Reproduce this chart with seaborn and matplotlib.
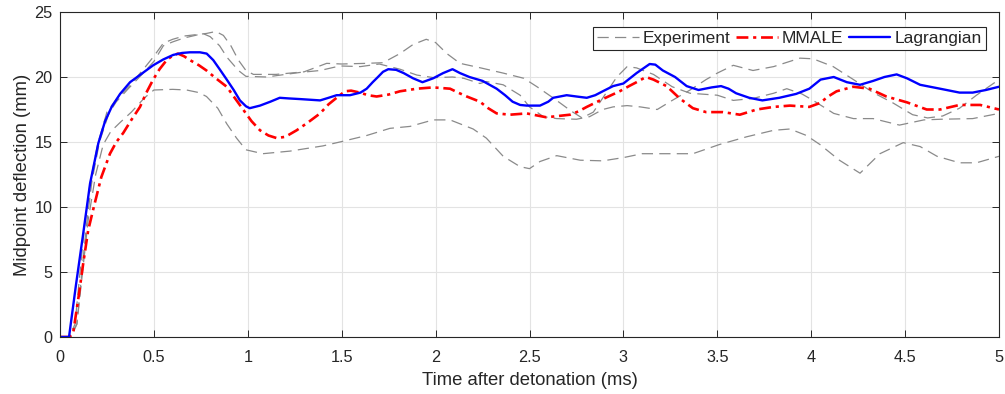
import numpy as np
import pandas as pd
import matplotlib
matplotlib.use("Agg")
import matplotlib.pyplot as plt
import seaborn as sns
from matplotlib.lines import Line2D

# ---- data ----
lag_t = [0.0, 0.048, 0.085, 0.124, 0.16, 0.204, 0.24, 0.275, 0.32, 0.373, 0.43, 0.496, 0.55, 0.603, 0.65, 0.692,
         0.745, 0.781, 0.816, 0.85, 0.888, 0.925, 0.958, 0.99, 1.01, 1.065, 1.12, 1.17, 1.22, 1.28, 1.385, 1.43,
         1.473, 1.544, 1.6, 1.633, 1.665, 1.693, 1.72, 1.748, 1.79, 1.83, 1.88, 1.93, 1.987, 2.04, 2.09, 2.13,
         2.18, 2.25, 2.325, 2.37, 2.41, 2.45, 2.485, 2.556, 2.6, 2.626, 2.698, 2.75, 2.805, 2.85, 2.89, 2.945,
         3.0, 3.07, 3.14, 3.17, 3.21, 3.275, 3.337, 3.4, 3.47, 3.52, 3.56, 3.6, 3.67, 3.74, 3.83, 3.92, 3.99,
         4.05, 4.12, 4.19, 4.26, 4.33, 4.39, 4.455, 4.51, 4.58, 4.686, 4.79, 4.86, 4.93, 5.0]
lag_y = [0.0, 0.0, 4.0, 8.0, 11.8, 14.9, 16.6, 17.7, 18.7, 19.6, 20.2, 20.9, 21.35, 21.7, 21.85, 21.9,
         21.9, 21.8, 21.3, 20.6, 19.8, 19.0, 18.2, 17.75, 17.6, 17.8, 18.1, 18.4, 18.35, 18.3, 18.2, 18.4,
         18.6, 18.6, 18.8, 19.1, 19.6, 20.0, 20.4, 20.6, 20.55, 20.3, 19.9, 19.6, 19.9, 20.3, 20.6, 20.3,
         20.0, 19.7, 19.1, 18.6, 18.1, 17.85, 17.8, 17.8, 18.1, 18.4, 18.6, 18.5, 18.4, 18.6, 18.9, 19.3,
         19.5, 20.3, 21.0, 20.95, 20.5, 20.0, 19.3, 19.0, 19.2, 19.3, 19.1, 18.75, 18.4, 18.2, 18.4, 18.7, 19.1,
         19.8, 20.0, 19.6, 19.4, 19.7, 20.0, 20.2, 19.9, 19.4, 19.1, 18.8, 18.8, 19.0, 19.25]

mm_t = [0.0, 0.05, 0.07, 0.1, 0.124, 0.15, 0.18, 0.22, 0.266, 0.3, 0.337, 0.38, 0.426, 0.46, 0.496, 0.53,
        0.568, 0.6, 0.628, 0.66, 0.692, 0.74, 0.78, 0.83, 0.888, 0.93, 0.975, 1.02, 1.065, 1.11, 1.154, 1.2,
        1.26, 1.32, 1.385, 1.43, 1.49, 1.518, 1.55, 1.597, 1.64, 1.686, 1.75, 1.81, 1.9, 1.987, 2.077, 2.12,
        2.166, 2.236, 2.28, 2.325, 2.396, 2.485, 2.59, 2.716, 2.76, 2.805, 2.89, 2.98, 3.03, 3.07, 3.12, 3.16,
        3.23, 3.3, 3.37, 3.44, 3.53, 3.62, 3.71, 3.8, 3.887, 3.99, 4.047, 4.09, 4.135, 4.224, 4.31, 4.4,
        4.51, 4.615, 4.686, 4.79, 4.9, 5.0]
mm_y = [0.0, 0.0, 0.3, 3.2, 5.7, 8.2, 10.0, 12.3, 14.1, 15.0, 15.7, 16.7, 17.7, 18.8, 19.8, 20.6,
        21.3, 21.65, 21.8, 21.6, 21.3, 20.9, 20.5, 19.9, 19.25, 18.4, 17.5, 16.6, 15.9, 15.5, 15.3, 15.4,
        15.9, 16.5, 17.2, 17.9, 18.6, 18.9, 18.95, 18.8, 18.6, 18.5, 18.65, 18.9, 19.1, 19.2, 19.1, 18.8,
        18.5, 18.1, 17.6, 17.2, 17.1, 17.2, 16.9, 17.1, 17.35, 17.7, 18.3, 18.9, 19.3, 19.6, 20.0, 19.8,
        19.3, 18.35, 17.6, 17.3, 17.3, 17.1, 17.5, 17.7, 17.8, 17.7, 18.0, 18.5, 18.9, 19.25, 19.1, 18.5,
        18.05, 17.5, 17.5, 17.85, 17.85, 17.5]

expA_t = [0.0, 0.05, 0.08, 0.1, 0.13, 0.16, 0.2, 0.25, 0.3, 0.37, 0.45, 0.5, 0.55, 0.6, 0.66, 0.72, 0.78,
          0.83, 0.87, 0.91, 0.95, 0.99, 1.03, 1.15, 1.3, 1.42, 1.5, 1.63, 1.72, 1.81, 1.88, 1.95, 2.0, 2.06,
          2.13, 2.24, 2.36, 2.47, 2.54, 2.63, 2.72, 2.78, 2.84, 2.9, 2.965, 3.02, 3.07, 3.16, 3.26, 3.355,
          3.5, 3.585, 3.69, 3.8, 3.87, 3.95, 4.01, 4.12, 4.225, 4.33, 4.47, 4.6, 4.69, 4.86, 5.0]
expA_y = [0.0, 0.0, 1.0, 4.0, 8.5, 11.8, 14.8, 17.3, 18.3, 19.3, 20.7, 21.6, 22.6, 22.9, 23.15, 23.25, 23.35,
          23.5, 23.2, 22.4, 21.3, 20.5, 20.2, 20.2, 20.4, 21.05, 21.0, 21.05, 21.1, 21.8, 22.5, 22.9, 22.65, 21.8,
          21.05, 20.7, 20.3, 19.9, 19.25, 18.35, 17.4, 16.85, 17.3, 18.6, 20.0, 20.8, 20.7, 20.2, 19.25, 18.75,
          18.6, 18.2, 18.35, 18.75, 19.1, 18.7, 18.2, 17.2, 16.8, 16.8, 16.3, 16.7, 16.75, 16.8, 17.2]

expB_t = [0.0, 0.05, 0.09, 0.11, 0.14, 0.17, 0.21, 0.26, 0.3, 0.37, 0.45, 0.5, 0.55, 0.6, 0.66, 0.72, 0.76,
          0.8, 0.85, 0.89, 0.95, 0.99, 1.1, 1.2, 1.278, 1.385, 1.49, 1.6, 1.7, 1.81, 1.9, 1.99, 2.09, 2.15,
          2.236, 2.27, 2.36, 2.45, 2.5, 2.574, 2.645, 2.75, 2.82, 2.89, 2.945, 3.02, 3.09, 3.18, 3.26, 3.355,
          3.44, 3.5, 3.585, 3.69, 3.8, 3.94, 4.01, 4.117, 4.225, 4.33, 4.436, 4.54, 4.62, 4.7, 4.79, 4.88, 5.0]
expB_y = [0.0, 0.0, 1.0, 4.0, 8.5, 12.0, 15.0, 17.2, 18.1, 19.2, 20.4, 21.2, 22.4, 22.7, 23.0, 23.2, 23.35,
          23.1, 22.4, 21.5, 20.5, 20.05, 20.0, 20.2, 20.35, 20.5, 20.85, 20.8, 21.0, 20.6, 20.15, 19.95, 20.0, 19.9,
          19.5, 19.65, 19.4, 18.6, 17.7, 16.95, 16.8, 16.75, 16.95, 17.5, 17.7, 17.8, 17.7, 17.5, 18.2, 19.0,
          19.8, 20.3, 20.9, 20.5, 20.8, 21.45, 21.4, 20.8, 19.8, 18.8, 18.0, 17.1, 16.85, 17.0, 17.6, 18.6, 19.8]

expC_t = [0.0, 0.06, 0.09, 0.12, 0.15, 0.19, 0.23, 0.27, 0.32, 0.38, 0.45, 0.5, 0.6, 0.674, 0.74, 0.78,
          0.84, 0.888, 0.94, 0.99, 1.08, 1.225, 1.4, 1.49, 1.633, 1.757, 1.864, 1.987, 2.077, 2.2, 2.27, 2.36,
          2.45, 2.5, 2.556, 2.645, 2.77, 2.89, 3.0, 3.1, 3.264, 3.37, 3.51, 3.656, 3.8, 3.887, 3.975, 4.047,
          4.15, 4.26, 4.366, 4.49, 4.58, 4.67, 4.79, 4.88, 5.0]
expC_y = [0.0, 0.0, 1.0, 5.0, 9.0, 12.5, 14.8, 15.8, 16.5, 17.3, 18.4, 19.0, 19.05, 19.0, 18.8, 18.5,
          17.6, 16.4, 15.3, 14.4, 14.1, 14.3, 14.7, 15.0, 15.5, 16.05, 16.2, 16.7, 16.7, 16.0, 15.3, 13.9,
          13.1, 12.95, 13.5, 13.95, 13.6, 13.55, 13.8, 14.1, 14.1, 14.1, 14.8, 15.4, 15.9, 16.0, 15.5, 14.8,
          13.6, 12.6, 14.1, 14.95, 14.65, 13.9, 13.4, 13.4, 13.9]

x_ticks = [0, 0.5, 1, 1.5, 2, 2.5, 3, 3.5, 4, 4.5, 5]
x_tick_labels = ["0", "0.5", "1", "1.5", "2", "2.5", "3", "3.5", "4", "4.5", "5"]
y_ticks = [0, 5, 10, 15, 20, 25]
series_names = ["Experiment", "MMALE", "Lagrangian"]

# ---- plotting ----
sns.set_theme(style="white")
plt.rcParams['font.family'] = ['Liberation Sans', 'DejaVu Sans']

fig = plt.figure(figsize=(10.05, 3.94), dpi=100)
ax = fig.add_axes([60/1005, (394-337)/394, (999-60)/1005, (337-12)/394])

grey = "#8a8a8a"
exp_dash = (0, (9, 5))
mm_dash = (0, (4.5, 1.8, 1.2, 1.8))
for t, y in [(expA_t, expA_y), (expB_t, expB_y), (expC_t, expC_y)]:
    df = pd.DataFrame({"t": t, "y": y})
    sns.lineplot(data=df, x="t", y="y", ax=ax, color=grey, lw=0.9, estimator=None, sort=False,
                 linestyle=exp_dash)

df = pd.DataFrame({"t": mm_t, "y": mm_y})
sns.lineplot(data=df, x="t", y="y", ax=ax, color="#ff0000", lw=1.9, estimator=None, sort=False,
             linestyle=mm_dash)
df = pd.DataFrame({"t": lag_t, "y": lag_y})
sns.lineplot(data=df, x="t", y="y", ax=ax, color="#0000ff", lw=1.7, estimator=None, sort=False)

ax.set_xlim(0, 5)
ax.set_ylim(0, 25)
ax.set_xticks(x_ticks)
ax.set_xticklabels(x_tick_labels)
ax.set_yticks(y_ticks)
ax.grid(True, color="#e3e3e3", lw=0.8)
ax.set_axisbelow(True)
for s in ax.spines.values():
    s.set_color("#262626")
    s.set_linewidth(0.8)
    s.set_visible(True)
ax.tick_params(direction="in", length=5, width=0.7, colors="#262626", labelsize=11.7,
               top=True, right=True, bottom=True, left=True)
ax.tick_params(axis="x", pad=9.5)
ax.tick_params(axis="y", pad=5.5)
ax.set_xlabel("Time after detonation (ms)", fontsize=13.3, color="#262626", labelpad=5)
ax.set_ylabel("Midpoint deflection (mm)", fontsize=13.3, color="#262626", labelpad=2)

handles = [Line2D([], [], color=grey, lw=0.9, linestyle=exp_dash),
           Line2D([], [], color="#ff0000", lw=1.9, linestyle=mm_dash),
           Line2D([], [], color="#0000ff", lw=1.7)]
leg = ax.legend(handles, series_names, ncol=3, loc="upper right", bbox_to_anchor=(0.9865, 0.955),
                fontsize=12.5, frameon=True, fancybox=False, edgecolor="#262626", framealpha=1,
                handlelength=2.4, handletextpad=0.25, columnspacing=0.3, borderpad=0.25, borderaxespad=0)
leg.get_frame().set_linewidth(0.8)

fig.savefig("out.png", dpi=100)
